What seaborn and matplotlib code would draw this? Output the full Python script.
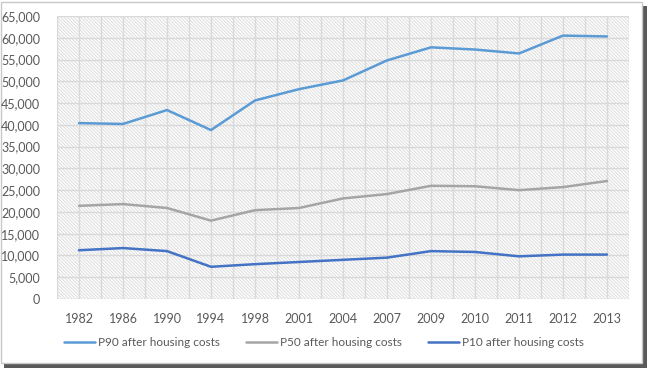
import pandas as pd
import matplotlib
matplotlib.use("Agg")
import matplotlib.pyplot as plt
from matplotlib.patches import Rectangle
import seaborn as sns


years = ["1982", "1986", "1990", "1994", "1998", "2001", "2004",
         "2007", "2009", "2010", "2011", "2012", "2013"]
p90 = [40400, 40200, 43400, 38800, 45600, 48200, 50200,
       54800, 57800, 57300, 56400, 60500, 60300]
p50 = [21400, 21800, 20900, 18000, 20400, 20900, 23100,
       24100, 26000, 25900, 25000, 25700, 27100]
p10 = [11200, 11700, 11000, 7400, 8000, 8500, 9000,
       9500, 11000, 10800, 9800, 10200, 10200]
series_names = ["P90 after housing costs", "P50 after housing costs",
                "P10 after housing costs"]
colors = ["#5B9BD5", "#A5A5A5", "#4472C4"]
y_ticks = list(range(0, 65001, 5000))

rows = []
for name, vals in zip(series_names, [p90, p50, p10]):
    for i, v in enumerate(vals):
        rows.append({"pos": i, "year": years[i], "value": v, "series": name})
df = pd.DataFrame(rows)

sns.set_style("white")
plt.rcParams["font.family"] = ["Lato", "DejaVu Sans"]
plt.rcParams["hatch.linewidth"] = 0.7
plt.rcParams["hatch.color"] = "#dcdcdc"

fig = plt.figure(figsize=(6.48, 3.68), dpi=100)
W, H = 648, 368

# frame with shadow, kept behind the axes
fig.patches.append(Rectangle((4 / W, 0), 643 / W, 362 / H, transform=fig.transFigure,
                             facecolor="#5a5a5a", edgecolor="none", zorder=-10))
fig.patches.append(Rectangle((1 / W, 5 / H), 641 / W, 361 / H, transform=fig.transFigure,
                             facecolor="white", edgecolor="#c8c8c8", linewidth=1.0, zorder=-9))

ax = fig.add_axes([57 / W, (368 - 299) / H, (629 - 57) / W, (299 - 16) / H])
ax.set_facecolor("white")
ax.add_patch(Rectangle((0, 0), 1, 1, transform=ax.transAxes, facecolor="white",
                       edgecolor="#dcdcdc", hatch="\\" * 10, linewidth=0, zorder=0))

sns.lineplot(data=df, x="pos", y="value", hue="series", palette=colors,
             linewidth=1.8, ax=ax, legend=False, zorder=3)

ax.set_xlim(-0.5, len(years) - 0.5)
ax.set_ylim(0, 65000)
for yv in y_ticks:
    ax.axhline(yv, color="#d9d9d9", linewidth=1.0, zorder=1)
for k in range(2 * len(years) + 1):
    ax.axvline(-0.5 + k * 0.5, color="#d9d9d9", linewidth=1.0, zorder=1)

ax.set_xticks(range(len(years)))
ax.set_xticklabels(years)
ax.set_yticks(y_ticks)
ax.set_yticklabels([f"{v:,}" for v in y_ticks])
ax.tick_params(axis="both", length=0, labelsize=9, colors="#595959")
ax.tick_params(axis="x", pad=10)
ax.tick_params(axis="y", pad=12)
ax.set_xlabel("")
ax.set_ylabel("")
for s in ax.spines.values():
    s.set_visible(False)

handles = [plt.Line2D([], [], color=c, linewidth=1.8) for c in colors]
fig.legend(handles, series_names, loc="center", bbox_to_anchor=(0.5, (368 - 343) / H),
           ncol=3, frameon=False, fontsize=8.5, labelcolor="#595959",
           handlelength=2.6, handletextpad=0.3, columnspacing=2.2)

fig.savefig("out.png", dpi=100, facecolor="white")
